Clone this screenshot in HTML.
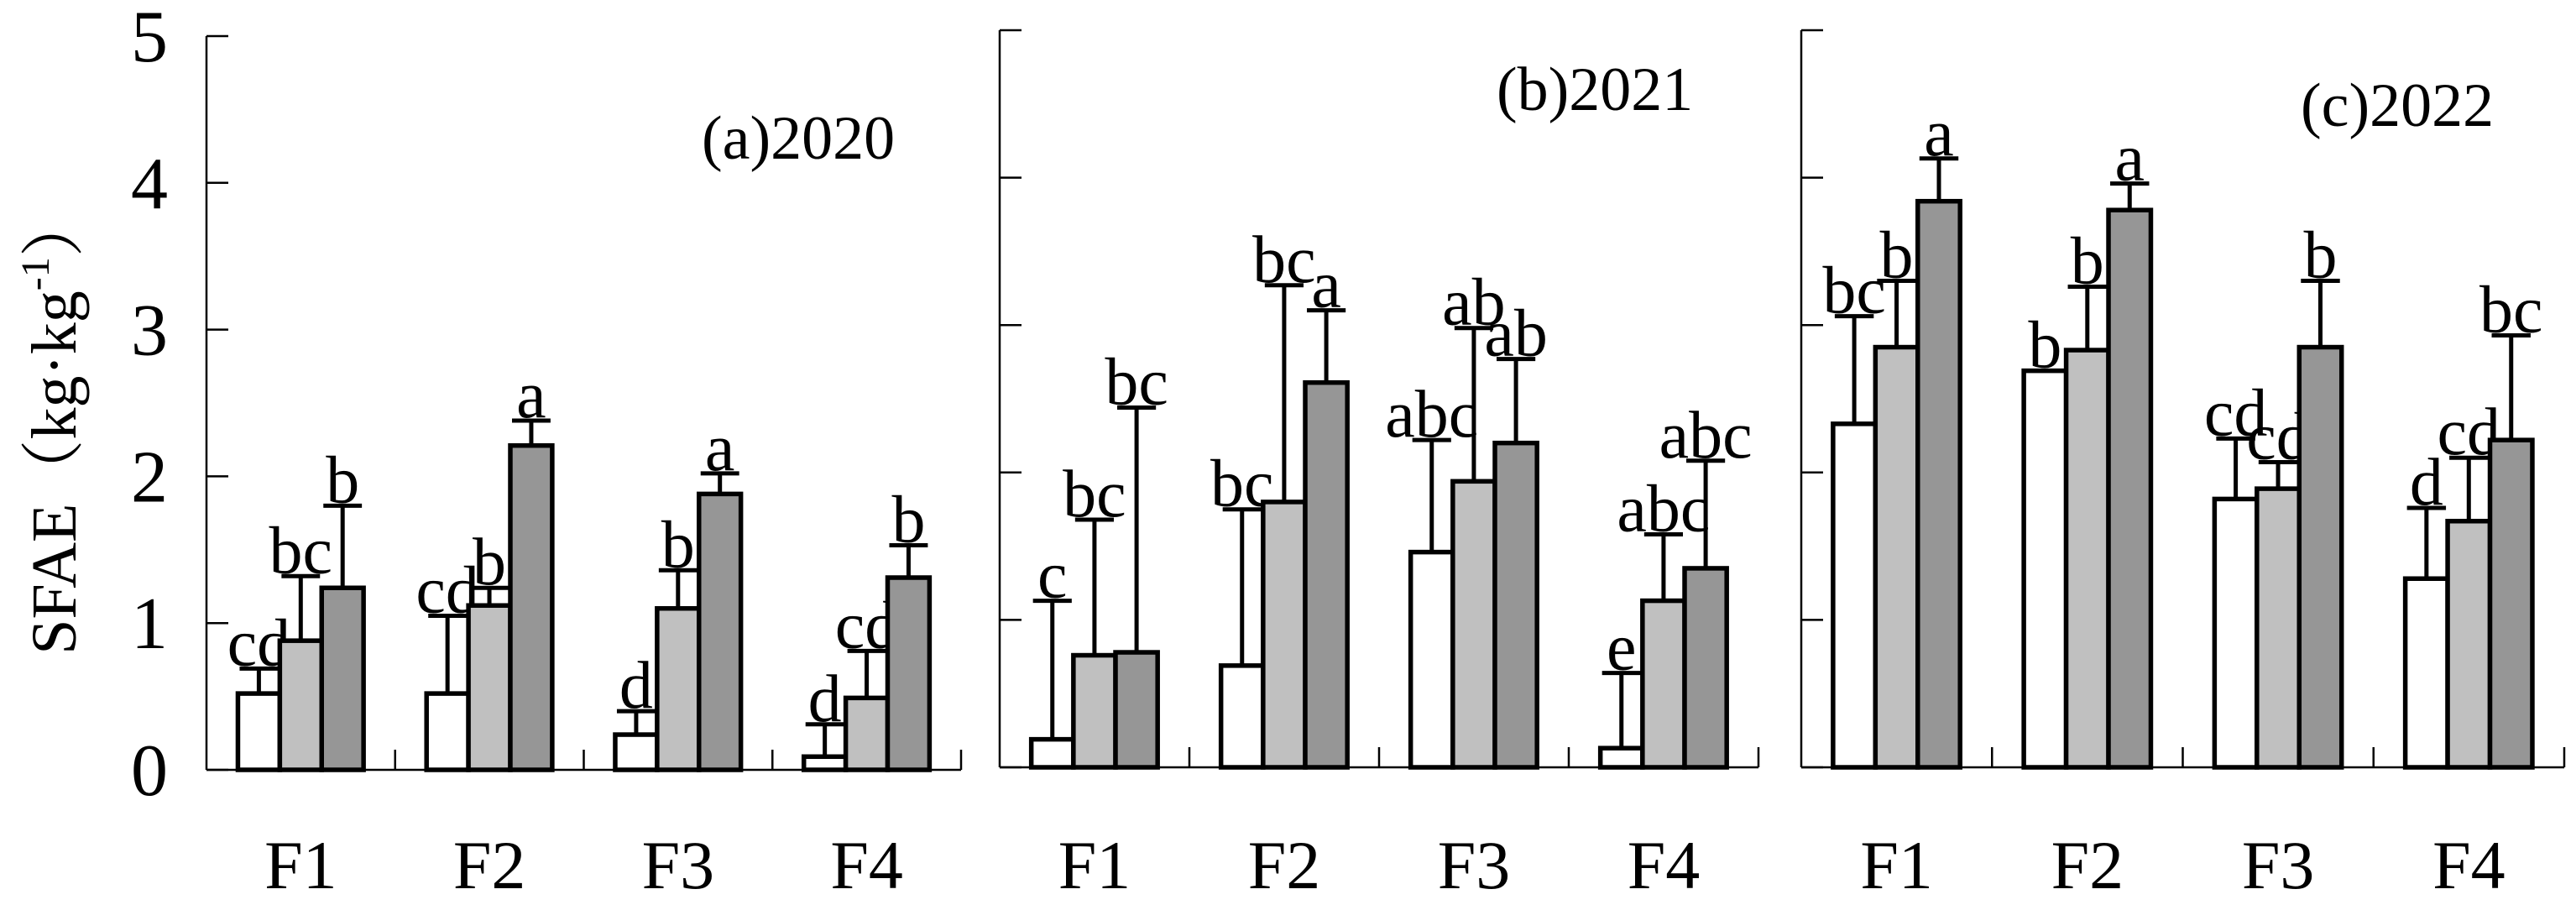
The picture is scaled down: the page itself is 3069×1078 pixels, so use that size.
<!DOCTYPE html>
<html><head><meta charset="utf-8"><style>
html,body{margin:0;padding:0;background:#fff;}
svg{display:block;font-family:"Liberation Serif","Noto Serif CJK SC",serif;}
</style></head><body>
<svg id="chart" width="3069" height="1078" viewBox="0 0 3069 1078" xmlns="http://www.w3.org/2000/svg">
<text transform="translate(90,505) rotate(-90)" text-anchor="middle" font-size="76">SFAE（kg·kg<tspan font-size="48" dy="-32">-1</tspan><tspan dy="32">）</tspan></text>
</svg>
<script>
const categories = ["F1","F2","F3","F4"];
const yTicks = [0,1,2,3,4,5];
const panelTitles = ["(a)2020","(b)2021","(c)2022"];
// series values per panel [category][series]
const values2020 = [[0.52,0.88,1.24],[0.52,1.12,2.21],[0.24,1.10,1.88],[0.09,0.49,1.31]];
const errTop2020 = [[0.69,1.32,1.80],[1.05,1.24,2.38],[0.40,1.36,2.02],[0.31,0.81,1.53]];
const letters2020 = [["cd","bc","b"],["cd","b","a"],["d","b","a"],["d","cd","b"]];
const values2021 = [[0.19,0.76,0.78],[0.69,1.80,2.61],[1.46,1.94,2.20],[0.13,1.13,1.35]];
const errTop2021 = [[1.13,1.68,2.44],[1.75,3.27,3.10],[2.22,2.98,2.77],[0.64,1.58,2.08]];
const letters2021 = [["c","bc","bc"],["bc","bc","a"],["abc","ab","ab"],["e","abc","abc"]];
const values2022 = [[2.33,2.85,3.84],[2.69,2.83,3.78],[1.82,1.89,2.85],[1.28,1.67,2.22]];
const errTop2022 = [[3.06,3.30,4.13],[null,3.26,3.96],[2.23,2.07,3.30],[1.76,2.10,2.93]];
const letters2022 = [["bc","b","a"],["b","b","a"],["cd","cd","b"],["d","cd","bc"]];

const NS="http://www.w3.org/2000/svg";
const svg=document.getElementById('chart');
const fills=["#ffffff","#c0c0c0","#969696"];
const panels=[
 {x0:246,x1:1145,y0:917,yTop:43,vals:values2020,errs:errTop2020,lets:letters2020,tx:836,ty:189,labels:true},
 {x0:1191,x1:2095,y0:914,yTop:36,vals:values2021,errs:errTop2021,lets:letters2021,tx:1783,ty:131,labels:false},
 {x0:2146,x1:3055,y0:914,yTop:36,vals:values2022,errs:errTop2022,lets:letters2022,tx:2741,ty:150,labels:false}
];
function mk(tag,attrs,parent){const e=document.createElementNS(NS,tag);for(const k in attrs)e.setAttribute(k,attrs[k]);(parent||svg).appendChild(e);return e;}
panels.forEach((p,pi)=>{
  const g=mk('g',{});
  
  
  const yScale=v=>p.y0-(p.y0-p.yTop)*v/5;
  const cw=(p.x1-p.x0)/categories.length;
  const bw=cw*0.222;
  const ya=mk('line',{x1:p.x0,y1:p.yTop,x2:p.x0,y2:p.y0,stroke:'#000','stroke-width':2.5},g);
  
  
  const xa=mk('line',{x1:p.x0,y1:p.y0,x2:p.x1,y2:p.y0,stroke:'#000','stroke-width':2.5},g);
  
  
  yTicks.forEach(t=>{
    const y=yScale(t);
    const tk=mk('line',{x1:p.x0,y1:y,x2:p.x0+26,y2:y,stroke:'#000','stroke-width':2.5},g);
    
    
    if(p.labels){
      const tl=mk('text',{x:178,y:y+30,'text-anchor':'middle','font-size':88},g);
      
      
      tl.textContent=t;
    }
  });
  for(let i=1;i<=categories.length;i++){
    const x=p.x0+cw*i;
    const tk=mk('line',{x1:x,y1:p.y0,x2:x,y2:p.y0-24,stroke:'#000','stroke-width':2.5},g);
    
    
  }
  const tt=mk('text',{x:p.tx,y:p.ty,'font-size':74},g);
  
  
  tt.textContent=panelTitles[pi];
  categories.forEach((c,ci)=>{
    const cx0=p.x0+cw*ci+cw/6;
    const cl=mk('text',{x:p.x0+cw*(ci+0.5),y:1058,'text-anchor':'middle','font-size':82},g);
    
    
    cl.textContent=c;
    p.vals[ci].forEach((v,si)=>{
      const bx=cx0+bw*si, by=yScale(v);
      const e=p.errs[ci][si];
      let topY=by;
      if(e!==null){
        const ey=yScale(e); topY=ey;
        const el=mk('line',{x1:bx+bw/2,y1:by,x2:bx+bw/2,y2:ey,stroke:'#000','stroke-width':5},g);
        
        
        const cap=mk('line',{x1:bx+2,y1:ey,x2:bx+bw-2,y2:ey,stroke:'#000','stroke-width':5},g);
        
        
      }
      const r=mk('rect',{x:bx,y:by,width:bw,height:p.y0-by,fill:fills[si],stroke:'#000','stroke-width':5.5},g);
      
      
      const lt=mk('text',{x:bx+bw/2,y:topY-4,'text-anchor':'middle','font-size':80},g);
      
      
      lt.textContent=p.lets[ci][si];
    });
  });
});
</script>
</body></html>
